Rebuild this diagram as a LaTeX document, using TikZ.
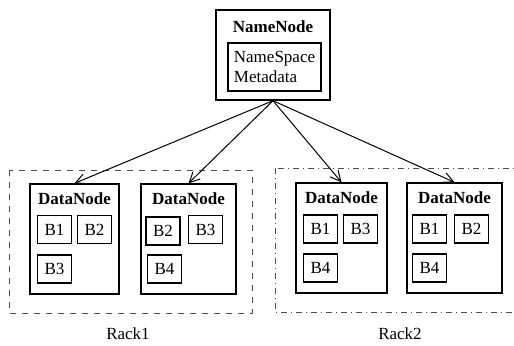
\documentclass[tikz,border=0pt]{standalone}
\usepackage{fontspec}
\setmainfont{Liberation Serif}
\usetikzlibrary{arrows.meta, positioning}

\begin{document}
\begin{tikzpicture}[
		x=0.5pt, y=-0.5pt,
		font=\fontsize{8.5}{10}\selectfont,
		namebox/.style={draw, line width=0.7pt, minimum width=57pt, minimum height=45pt},
		metabox/.style={draw, line width=0.7pt, minimum width=46.5pt, minimum height=24pt,
			align=left, inner sep=2pt},
		datanode/.style={draw, line width=0.7pt, minimum width=45pt, minimum height=55pt},
		block/.style={draw, line width=0.6pt, minimum width=17pt, minimum height=14pt, inner sep=1pt},
		title/.style={font=\fontsize{8.5}{10}\selectfont\bfseries},
		rack/.style={draw, line width=0.5pt, gray!60!black},
		arrow/.style={-{Straight Barb[length=1.8mm, width=1.8mm]}, line width=0.5pt}
	]
		\useasboundingbox (0,0) rectangle (514,345);

		% racks
		\draw[rack, dashed] (9,170) rectangle (252,313);
		\draw[rack, dash dot] (275,168) rectangle (518,312);
		\node (rack1) at (128,334) {Rack1};
		\node (rack2) at (400,334) {Rack2};

		% name node
		\node[namebox] (nn) at (273,55) {};
		\node[title, below=2pt of nn.north] {NameNode};
		\node[metabox] (meta) at (274.5,67) {NameSpace\\Metadata};

		% data nodes
		\node[datanode, minimum width=44.5pt] (dn1) at (74.5,239) {};
		\node[datanode, minimum width=47.5pt] (dn2) at (188.5,239) {};
		\node[datanode, minimum width=45.5pt] (dn3) at (341.5,238) {};
		\node[datanode, minimum width=47.5pt] (dn4) at (454.5,238) {};
		\foreach \d in {dn1,dn2,dn3,dn4}
			\node[title, below=1pt of \d.north] {DataNode};

		% blocks
		\node[block] (dn1b1) at (54.5,229.5) {B1};
		\node[block] (dn1b2) at (94.5,229.5) {B2};
		\node[block] (dn1b3) at (54.5,269) {B3};
		\node[block] (dn2b2) at (163,231) {B2};
		\node[block] (dn2b3) at (205.5,229.5) {B3};
		\node[block] (dn2b4) at (164.5,269) {B4};
		\node[block] (dn3b1) at (320.5,229) {B1};
		\node[block] (dn3b3) at (360.5,229) {B3};
		\node[block] (dn3b4) at (320.5,268) {B4};
		\node[block] (dn4b1) at (429.5,229) {B1};
		\node[block] (dn4b2) at (471.5,229) {B2};
		\node[block] (dn4b4) at (429.5,268) {B4};

		\draw[arrow] (nn.south) -- (dn1.north);
		\draw[arrow] (nn.south) -- (dn2.north);
		\draw[arrow] (nn.south) -- (dn3.north);
		\draw[arrow] (nn.south) -- (dn4.north);
	\end{tikzpicture}
\end{document}
